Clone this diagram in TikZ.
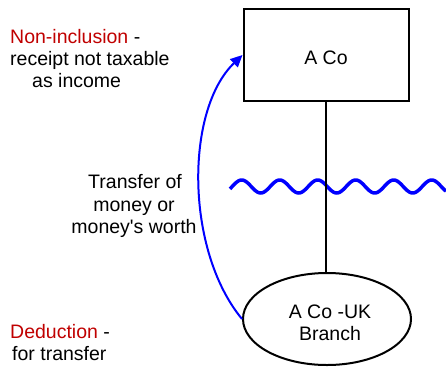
\documentclass[tikz,border=0pt]{standalone}
\usepackage{fontspec}
\setmainfont{Liberation Sans}
\usetikzlibrary{shapes.geometric,arrows.meta}
\definecolor{lblred}{RGB}{192,0,0}
\begin{document}
\begin{tikzpicture}[x=1pt,y=-1pt,
  every node/.style={font=\fontsize{19.5}{22.5}\selectfont, inner sep=0pt},
  lbl/.style={anchor=base west},
  mid/.style={anchor=base},
  entity/.style={draw=black, line width=2pt, fill=white},
  link/.style={line width=2pt, draw=black},
  flow/.style={draw=blue, line width=2pt, -{Triangle[length=12pt,width=11pt]}},
  wave/.style={draw=blue, line width=3.5pt}]
\useasboundingbox (0,0) rectangle (446,367);
% wave
\draw[wave] plot[domain=230:446, samples=200, smooth] (\x, {186.5-6.5*cos(9.47368*(\x-241.7))});
% entities
\node[entity, rectangle, minimum width=165pt, minimum height=92pt] (aco) at (326,55) {};
\node (acotxt) at (326,57.5) {A Co};
\node[entity, ellipse, minimum width=168pt, minimum height=92pt] (branch) at (327,319) {};
\node[align=center] (branchtxt) at (330,323) {A Co -UK\\Branch};
\draw[link] (aco.south) -- (aco.south |- branch.north);
% flow arrow
\draw[flow] (branch.west) .. controls (185,250) and (185,110) .. (aco.west);
% labels
\node[lbl] (ni1) at (10,43.5) {\textcolor{lblred}{Non-inclusion} -};
\node[lbl] (ni2) at (10,65.5) {receipt not taxable};
\node[lbl] (ni3) at (32,87.5) {as income};
\node[mid] (tr1) at (135,188.5) {Transfer of};
\node[mid] (tr2) at (134,211) {money or};
\node[mid] (tr3) at (134,233.5) {money\textquotesingle s worth};
\node[lbl] (de1) at (10,338) {\textcolor{lblred}{Deduction} -};
\node[lbl] (de2) at (12,360) {for transfer};
\end{tikzpicture}
\end{document}
